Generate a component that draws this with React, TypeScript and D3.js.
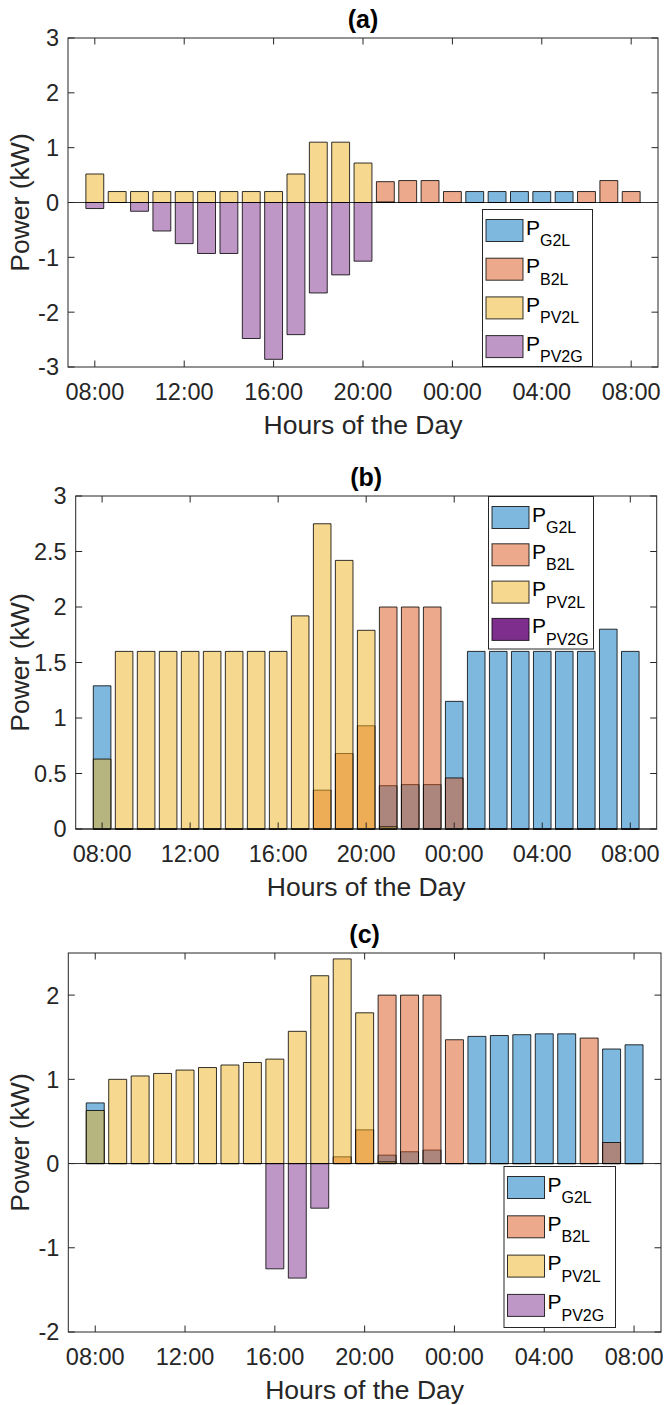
import React from 'react';
import * as d3 from 'd3';

// hour slots, 08:00 today -> 08:00 next day
const HOURS = [
  '08:00', '09:00', '10:00', '11:00', '12:00', '13:00', '14:00', '15:00', '16:00',
  '17:00', '18:00', '19:00', '20:00', '21:00', '22:00', '23:00', '00:00', '01:00',
  '02:00', '03:00', '04:00', '05:00', '06:00', '07:00', '08:00',
];
const X_TICK_IDX = [0, 4, 8, 12, 16, 20, 24];

const SERIES_NAMES = ['G2L', 'B2L', 'PV2L', 'PV2G'];
const SERIES_COLORS = ['#0072BD', '#D95319', '#EDB120', '#7E2F8E'];

// (a)
const G2L_A = [0, 0, 0, 0, 0, 0, 0, 0, 0, 0, 0, 0, 0, 0, 0, 0, 0, 0.2, 0.2, 0.2, 0.2, 0.2, 0, 0, 0];
const B2L_A = [0, 0, 0, 0, 0, 0, 0, 0, 0, 0, 0, 0, 0, 0.38, 0.4, 0.4, 0.2, 0, 0, 0, 0, 0, 0.2, 0.4, 0.2];
const PV2L_A = [0.52, 0.2, 0.2, 0.2, 0.2, 0.2, 0.2, 0.2, 0.2, 0.52, 1.1, 1.1, 0.72, 0.01, 0, 0, 0, 0, 0, 0, 0, 0, 0, 0, 0];
const PV2G_A = [-0.11, 0, -0.16, -0.52, -0.75, -0.93, -0.93, -2.48, -2.86, -2.41, -1.65, -1.32, -1.07, 0, 0, 0, 0, 0, 0, 0, 0, 0, 0, 0, 0];

// (b)
const G2L_B = [1.29, 0, 0, 0, 0, 0, 0, 0, 0, 0, 0, 0, 0, 0.39, 0.4, 0.4, 1.15, 1.6, 1.6, 1.6, 1.6, 1.6, 1.6, 1.8, 1.6];
const B2L_B = [0, 0, 0, 0, 0, 0, 0, 0, 0, 0, 0.35, 0.68, 0.93, 2.0, 2.0, 2.0, 0.46, 0, 0, 0, 0, 0, 0, 0, 0];
const PV2L_B = [0.63, 1.6, 1.6, 1.6, 1.6, 1.6, 1.6, 1.6, 1.6, 1.92, 2.75, 2.42, 1.79, 0.02, 0, 0, 0, 0, 0, 0, 0, 0, 0, 0, 0];
const PV2G_B = [0, 0, 0, 0, 0, 0, 0, 0, 0, 0, 0, 0, 0, 0, 0, 0, 0, 0, 0, 0, 0, 0, 0, 0, 0];

// (c)
const G2L_C = [0.72, 0, 0, 0, 0, 0, 0, 0, 0, 0, 0, 0, 0, 0.1, 0.14, 0.16, 0, 1.51, 1.52, 1.53, 1.54, 1.54, 0, 1.36, 1.41];
const B2L_C = [0, 0, 0, 0, 0, 0, 0, 0, 0, 0, 0, 0.08, 0.4, 2.0, 2.0, 2.0, 1.47, 0, 0, 0, 0, 0, 1.49, 0.25, 0];
const PV2L_C = [0.63, 1.0, 1.04, 1.07, 1.11, 1.14, 1.17, 1.2, 1.24, 1.57, 2.23, 2.43, 1.79, 0.02, 0, 0, 0, 0, 0, 0, 0, 0, 0, 0, 0];
const PV2G_C = [0, 0, 0, 0, 0, 0, 0, 0, -1.25, -1.36, -0.53, 0, 0, 0, 0, 0, 0, 0, 0, 0, 0, 0, 0, 0, 0];

const Y_TICKS_A = [-3, -2, -1, 0, 1, 2, 3];
const Y_TICKS_B = [0, 0.5, 1, 1.5, 2, 2.5, 3];
const Y_TICKS_C = [-2, -1, 0, 1, 2];

const FONT = '"Liberation Sans", Arial, Helvetica, sans-serif';
const INK = '#262626';

type Box = { left: number; right: number; top: number; bottom: number };
type Legend = { x: number; y: number; w: number; h: number; row: number; pv2gSolid?: boolean };

function Panel({ title, box, yDomain, yTicks, series, legend }: {
  title: string; box: Box; yDomain: [number, number]; yTicks: number[];
  series: number[][]; legend: Legend;
}) {
  const x = d3.scaleLinear().domain([-1.2, HOURS.length + 0.2]).range([box.left, box.right]);
  const y = d3.scaleLinear().domain(yDomain).range([box.bottom, box.top]);
  const bw = (x(1) - x(0)) * 0.8;
  const tick = 6.5;

  const barPath = (i: number, v: number) => {
    const p = d3.path();
    const x0 = x(i) - bw / 2;
    p.moveTo(x0, y(0));
    p.lineTo(x0 + bw, y(0));
    p.lineTo(x0 + bw, y(v));
    p.lineTo(x0, y(v));
    p.closePath();
    return p.toString();
  };

  return (
    <g fontFamily={FONT}>
      <text x={(box.left + box.right) / 2} y={box.top - 10.5} textAnchor="middle"
        fontSize={25} fontWeight="bold" fill="#000">{title}</text>

      {/* baseline */}
      <line x1={box.left} x2={box.right} y1={y(0)} y2={y(0)} stroke="#333" strokeWidth={1} />

      {series.map((vals, s) => (
        <g key={s}>
          {vals.map((v, i) => (
            <path key={i} d={barPath(i, v)} fill={SERIES_COLORS[s]} fillOpacity={0.5}
              stroke="#000" strokeOpacity={0.8} strokeWidth={1} />
          ))}
        </g>
      ))}

      {/* axes box */}
      <rect x={box.left} y={box.top} width={box.right - box.left} height={box.bottom - box.top}
        fill="none" stroke={INK} strokeWidth={1} />

      {X_TICK_IDX.map((i) => (
        <g key={i}>
          <line x1={x(i)} x2={x(i)} y1={box.bottom} y2={box.bottom - tick} stroke={INK} />
          <line x1={x(i)} x2={x(i)} y1={box.top} y2={box.top + tick} stroke={INK} />
          <text x={x(i)} y={box.bottom + 33} textAnchor="middle" fontSize={23.5} fill={INK}>{HOURS[i]}</text>
        </g>
      ))}
      {yTicks.map((t) => (
        <g key={t}>
          <line x1={box.left} x2={box.left + tick} y1={y(t)} y2={y(t)} stroke={INK} />
          <line x1={box.right} x2={box.right - tick} y1={y(t)} y2={y(t)} stroke={INK} />
          <text x={box.left - 9} y={y(t)} dy="0.36em" textAnchor="end" fontSize={23.5} fill={INK}>{t}</text>
        </g>
      ))}

      <text x={(box.left + box.right) / 2} y={box.bottom + 67} textAnchor="middle" fontSize={26.5} fill={INK}>
        Hours of the Day
      </text>
      <text transform={`translate(29,${(box.top + box.bottom) / 2}) rotate(-90)`} textAnchor="middle"
        fontSize={26.5} fill={INK}>Power (kW)</text>

      {/* legend */}
      <g>
        <rect x={legend.x} y={legend.y} width={legend.w} height={legend.h} fill="#fff" stroke={INK} strokeWidth={1} />
        {SERIES_NAMES.map((name, s) => {
          const sy = legend.y + 10 + s * legend.row;
          const solid = legend.pv2gSolid && s === 3;
          return (
            <g key={name}>
              <rect x={legend.x + 3.5} y={sy} width={37} height={22} fill={SERIES_COLORS[s]}
                fillOpacity={solid ? 1 : 0.5} stroke="#000" strokeOpacity={0.8} />
              <text x={legend.x + 43.5} y={sy + 15} fontSize={21} fill="#000">
                P<tspan fontSize={16} dy={11.5}>{name}</tspan>
              </text>
            </g>
          );
        })}
      </g>
    </g>
  );
}

export default function App() {
  return (
    <svg width={666} height={1405} style={{ position: 'absolute', left: 0, top: 0, background: '#fff' }}>
      <Panel title="(a)" box={{ left: 68, right: 658, top: 38, bottom: 367 }} yDomain={[-3, 3]} yTicks={Y_TICKS_A}
        series={[G2L_A, B2L_A, PV2L_A, PV2G_A]}
        legend={{ x: 482.5, y: 209.5, w: 110, h: 157, row: 38.7 }} />
      <Panel title="(b)" box={{ left: 75.7, right: 656.7, top: 496, bottom: 829 }} yDomain={[0, 3]} yTicks={Y_TICKS_B}
        series={[G2L_B, B2L_B, PV2L_B, PV2G_B]}
        legend={{ x: 488.5, y: 496.5, w: 105, h: 152.5, row: 37.3, pv2gSolid: true }} />
      <Panel title="(c)" box={{ left: 68.3, right: 661, top: 953, bottom: 1332 }} yDomain={[-2, 2.5]} yTicks={Y_TICKS_C}
        series={[G2L_C, B2L_C, PV2L_C, PV2G_C]}
        legend={{ x: 504, y: 1166.5, w: 111.5, h: 161, row: 39.3 }} />
    </svg>
  );
}
